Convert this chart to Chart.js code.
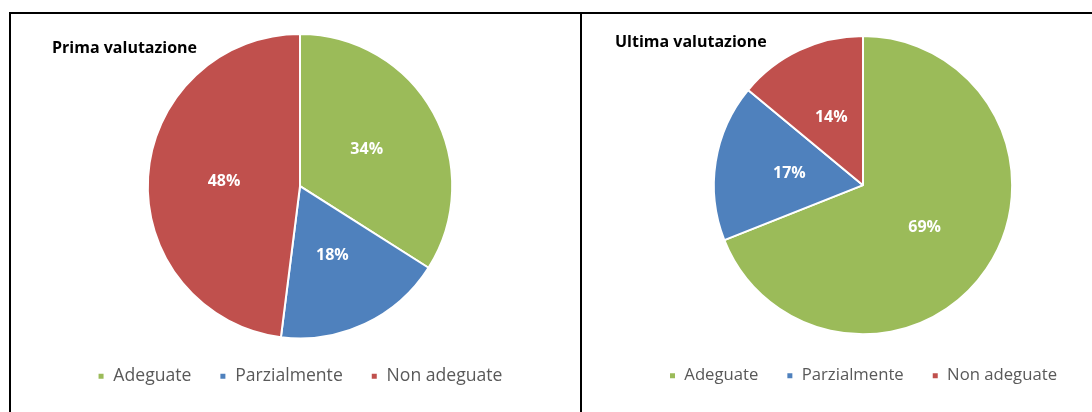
<!DOCTYPE html>
<html>
<head>
<meta charset="utf-8">
<script src="https://cdn.jsdelivr.net/npm/chart.js@4/dist/chart.umd.min.js"></script>
<style>
  html, body { margin: 0; padding: 0; background: #fff; overflow: hidden; width: 1092px; height: 412px; }
  .line { position: absolute; background: #000; }
  .title { position: absolute; font-family: "Open Sans", sans-serif; font-weight: 700; font-size: 16px; line-height: 20px; color: #000; white-space: nowrap; }
  canvas { position: absolute; display: block; }
</style>
</head>
<body>
<div class="line" style="left:9px; top:12px; width:1083px; height:2px;"></div>
<div class="line" style="left:9px; top:12px; width:2px; height:400px;"></div>
<div class="line" style="left:580px; top:12px; width:2px; height:400px;"></div>

<canvas id="c1" width="500" height="362" style="left:50px; top:33px; width:500px; height:362px;"></canvas>
<canvas id="c2" width="458" height="359" style="left:634px; top:35px; width:458px; height:359px;"></canvas>

<div class="title" style="left:52px; top:37px;">Prima valutazione</div>
<div class="title" style="left:615px; top:31px;">Ultima valutazione</div>

<script>
const categories = ["Adeguate", "Parzialmente", "Non adeguate"];
const primaValues = [34, 18, 48];
const ultimaValues = [69, 17, 14];
const sliceColors = ["#9BBB59", "#4F81BD", "#C0504D"];

const sliceLabels = {
  id: 'sliceLabels',
  afterDatasetsDraw(chart) {
    const ctx = chart.ctx;
    const ds = chart.data.datasets[0];
    chart.getDatasetMeta(0).data.forEach((arc, i) => {
      const p = arc.tooltipPosition();
      ctx.save();
      ctx.fillStyle = '#ffffff';
      ctx.font = 'bold 16px "Open Sans"';
      ctx.textAlign = 'center';
      ctx.textBaseline = 'middle';
      ctx.fillText(ds.data[i] + '%', p.x, p.y);
      ctx.restore();
    });
  }
};

function makePie(id, values, fontSize, pad, titleH) {
  return new Chart(document.getElementById(id), {
    type: 'pie',
    data: {
      labels: categories,
      datasets: [{
        data: values,
        backgroundColor: sliceColors,
        borderColor: '#ffffff',
        borderWidth: 2
      }]
    },
    options: {
      responsive: false,
      maintainAspectRatio: false,
      devicePixelRatio: 1,
      animation: false,
      layout: { padding: 0 },
      plugins: {
        tooltip: { enabled: false },
        legend: {
          position: 'bottom',
          align: 'center',
          title: { display: titleH > 0, text: '', font: { size: titleH, lineHeight: 1 }, padding: 0 },
          labels: {
            boxWidth: 7,
            boxHeight: 7,
            padding: pad,
            color: '#595959',
            font: { family: '"Open Sans"', size: fontSize }
          }
        }
      }
    },
    plugins: [sliceLabels]
  });
}

makePie('c1', primaValues, 17.6, 28, 0);
makePie('c2', ultimaValues, 16.7, 28, 4);
</script>
</body>
</html>
